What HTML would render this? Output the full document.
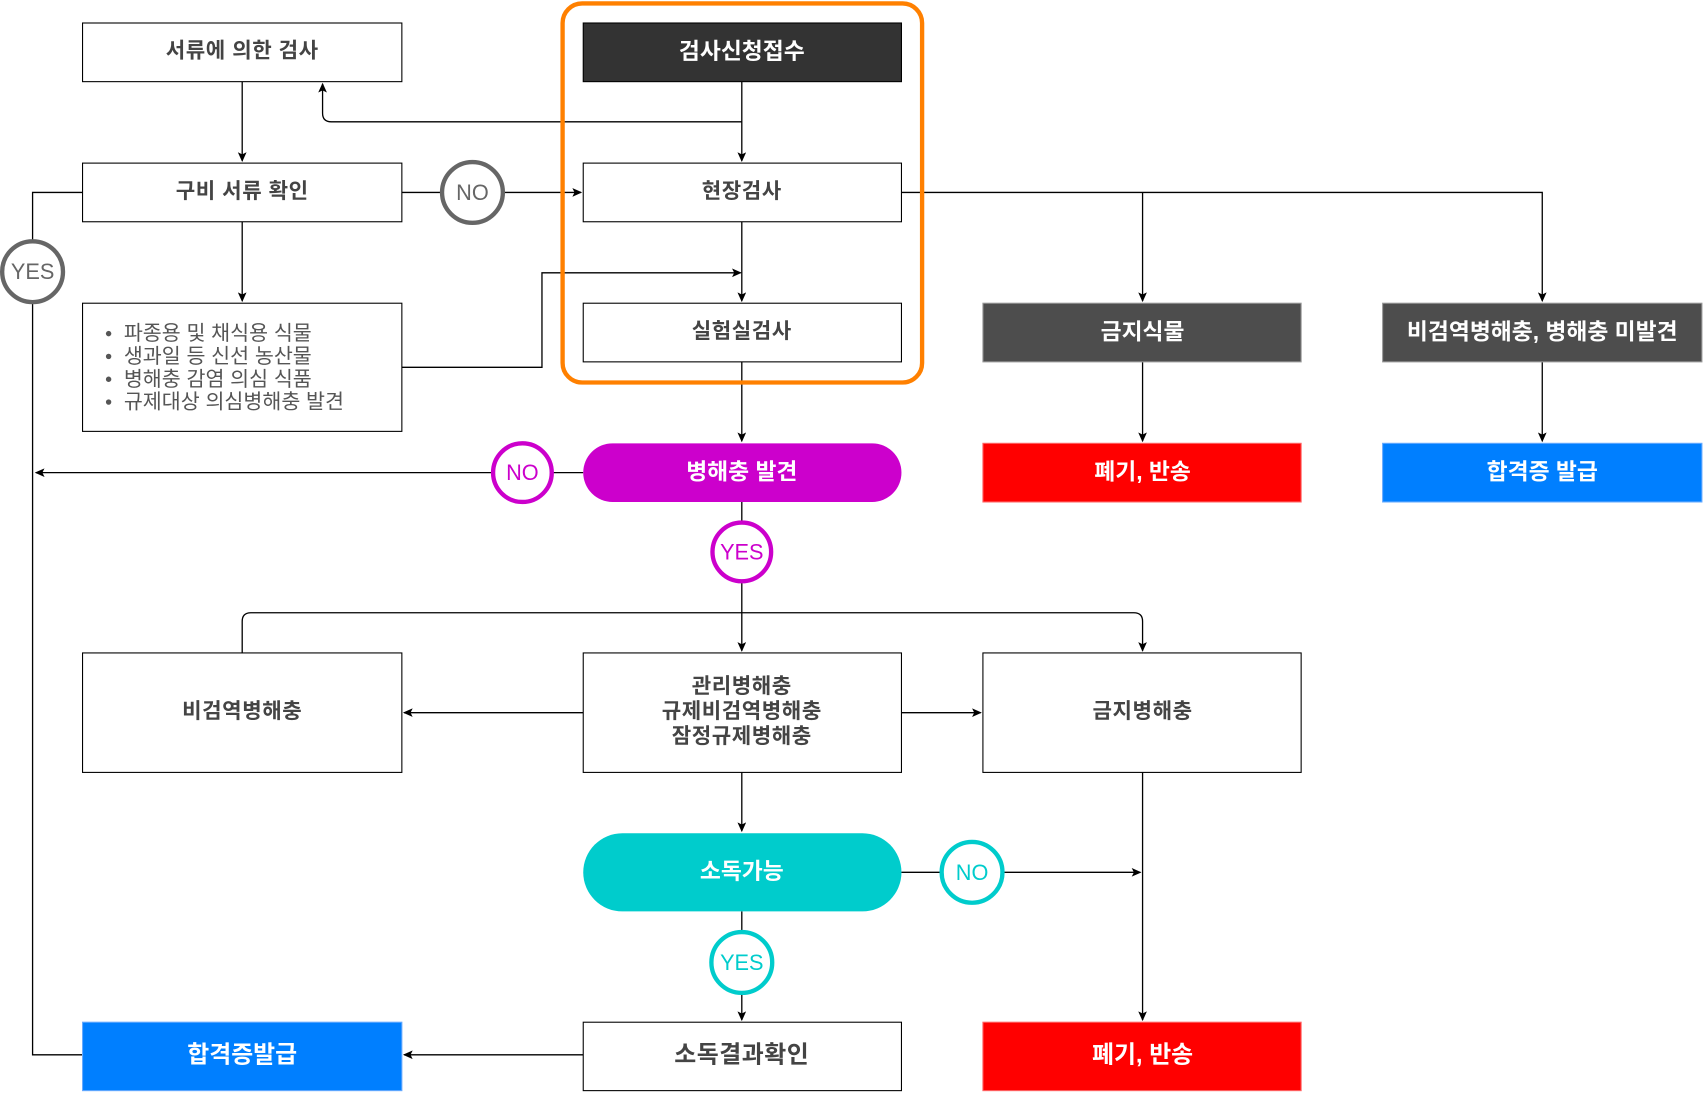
<!DOCTYPE html>
<html><head><meta charset="utf-8"><style>
html,body{margin:0;padding:0;background:#fff;}
svg{display:block;}
text{font-family:"Liberation Sans","Noto Sans CJK KR",sans-serif;}
.b{fill:#fff;stroke:#000;stroke-width:1;}
.t{font-size:19.5px;font-weight:bold;fill:#444;text-anchor:middle;dominant-baseline:central;letter-spacing:0.5px;}
.w{font-size:21px;font-weight:bold;fill:#fff;text-anchor:middle;dominant-baseline:central;}
.l{fill:none;stroke:#000;stroke-width:1.2;}
.c{font-size:20px;text-anchor:middle;dominant-baseline:central;}
</style></head><body>
<svg width="1703" height="1093" viewBox="0 0 1568 1006" xmlns="http://www.w3.org/2000/svg">
<defs><marker id="a" markerWidth="10" markerHeight="10" refX="8" refY="4" orient="auto" markerUnits="userSpaceOnUse"><path d="M0,0 L9,4 L0,8 L2,4 z" fill="#000"/></marker></defs>

<path class="l" d="M223,75 V148" marker-end="url(#a)"/>
<path class="l" d="M683,75 V148" marker-end="url(#a)"/>
<path class="l" d="M683,112 H305 Q297,112 297,104 V77" marker-end="url(#a)"/>
<path class="l" d="M370,177 H407 M463,177 H535" marker-end="url(#a)"/>
<path class="l" d="M76,177 H30 V222 M30,278 V971 H76"/>
<path class="l" d="M223,204 V277" marker-end="url(#a)"/>
<path class="l" d="M683,204 V277" marker-end="url(#a)"/>
<path class="l" d="M370,338 H499 V251 H682" marker-end="url(#a)"/>
<path class="l" d="M830,177 H1420 V277" marker-end="url(#a)"/>
<path class="l" d="M1052,177 V277" marker-end="url(#a)"/>
<path class="l" d="M683,333 V406" marker-end="url(#a)"/>
<path class="l" d="M1052,333 V406" marker-end="url(#a)"/>
<path class="l" d="M1420,333 V406" marker-end="url(#a)"/>
<path class="l" d="M537,435 H509 M453,435 H33" marker-end="url(#a)"/>
<path class="l" d="M683,462 V480 M683,536 V599" marker-end="url(#a)"/>
<path class="l" d="M223,601 V572 Q223,564 231,564 H1044 Q1052,564 1052,572 V599" marker-end="url(#a)"/>
<path class="l" d="M537,656 H372" marker-end="url(#a)"/>
<path class="l" d="M830,656 H903" marker-end="url(#a)"/>
<path class="l" d="M683,711 V765" marker-end="url(#a)"/>
<path class="l" d="M1052,711 V939" marker-end="url(#a)"/>
<path class="l" d="M830,803 H867 M923,803 H1050" marker-end="url(#a)"/>
<path class="l" d="M683,839 V858 M683,914 V939" marker-end="url(#a)"/>
<path class="l" d="M537,971 H372" marker-end="url(#a)"/>

<rect x="518" y="3" width="331" height="349" rx="18" fill="none" stroke="#ff8000" stroke-width="4"/>

<rect class="b" x="76" y="21" width="294" height="54"/><text class="t" x="223" y="47">서류에 의한 검사</text>
<rect x="537" y="21" width="293" height="54" fill="#333" stroke="#000"/><text class="w" x="683" y="47">검사신청접수</text>
<rect class="b" x="76" y="150" width="294" height="54"/><text class="t" x="223" y="176">구비 서류 확인</text>
<rect class="b" x="537" y="150" width="293" height="54"/><text class="t" x="683" y="176">현장검사</text>
<rect class="b" x="76" y="279" width="294" height="118"/>
<g font-size="19" fill="#555">
<circle cx="100" cy="307" r="2.5" fill="#555"/><text x="114" y="313">파종용 및 채식용 식물</text>
<circle cx="100" cy="328" r="2.5" fill="#555"/><text x="114" y="334">생과일 등 신선 농산물</text>
<circle cx="100" cy="349" r="2.5" fill="#555"/><text x="114" y="355">병해충 감염 의심 식품</text>
<circle cx="100" cy="370" r="2.5" fill="#555"/><text x="114" y="376">규제대상 의심병해충 발견</text>
</g>
<rect class="b" x="537" y="279" width="293" height="54"/><text class="t" x="683" y="305">실험실검사</text>
<rect x="905" y="279" width="293" height="54" fill="#4d4d4d" stroke="#999"/><text class="w" x="1052" y="305">금지식물</text>
<rect x="1273" y="279" width="294" height="54" fill="#4d4d4d" stroke="#999"/><text class="w" x="1420" y="305">비검역병해충, 병해충 미발견</text>
<rect x="905" y="408" width="293" height="54" fill="#ff0000" stroke="#f66"/><text class="w" x="1052" y="434">폐기, 반송</text>
<rect x="1273" y="408" width="294" height="54" fill="#007fff" stroke="#6af"/><text class="w" x="1420" y="434">합격증 발급</text>
<rect x="537" y="408" width="293" height="54" rx="27" fill="#cc00cc"/><text class="w" x="683" y="434">병해충 발견</text>
<rect class="b" x="76" y="601" width="294" height="110"/><text class="t" x="223" y="655">비검역병해충</text>
<rect class="b" x="537" y="601" width="293" height="110"/>
<text class="t" x="683" y="632">관리병해충</text><text class="t" x="683" y="655">규제비검역병해충</text><text class="t" x="683" y="678">잠정규제병해충</text>
<rect class="b" x="905" y="601" width="293" height="110"/><text class="t" x="1052" y="655">금지병해충</text>
<rect x="537" y="767" width="293" height="72" rx="36" fill="#00cccc"/><text class="w" x="683" y="802">소독가능</text>
<rect x="76" y="941" width="294" height="63" fill="#007fff" stroke="#6af"/><text class="w" x="223" y="971" style="font-size:22px">합격증발급</text>
<rect class="b" x="537" y="941" width="293" height="63"/><text class="t" x="683" y="971" style="font-size:22px">소독결과확인</text>
<rect x="905" y="941" width="293" height="63" fill="#ff0000" stroke="#f66"/><text class="w" x="1052" y="971" style="font-size:22px">폐기, 반송</text>

<circle cx="435" cy="177" r="28" fill="#fff" stroke="#666" stroke-width="4"/><text class="c" x="435" y="177" fill="#666">NO</text>
<circle cx="30" cy="250" r="28" fill="#fff" stroke="#666" stroke-width="4"/><text class="c" x="30" y="250" fill="#666">YES</text>
<circle cx="481" cy="435" r="27" fill="#fff" stroke="#cc00cc" stroke-width="4"/><text class="c" x="481" y="435" fill="#cc00cc">NO</text>
<circle cx="683" cy="508" r="27" fill="#fff" stroke="#cc00cc" stroke-width="4"/><text class="c" x="683" y="508" fill="#cc00cc">YES</text>
<circle cx="895" cy="803" r="28" fill="#fff" stroke="#00cccc" stroke-width="4"/><text class="c" x="895" y="803" fill="#00cccc">NO</text>
<circle cx="683" cy="886" r="28" fill="#fff" stroke="#00cccc" stroke-width="4"/><text class="c" x="683" y="886" fill="#00cccc">YES</text>
</svg>
</body></html>
